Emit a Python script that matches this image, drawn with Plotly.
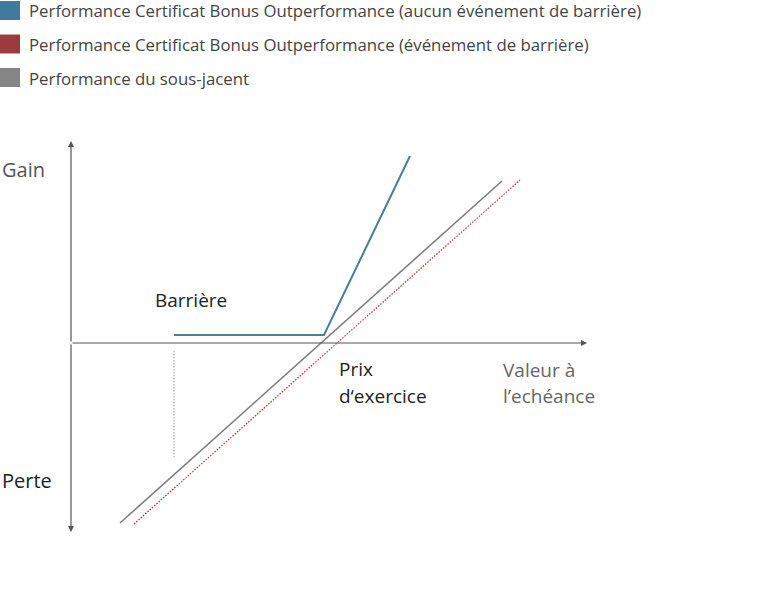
import plotly.graph_objects as go

# Data in a conceptual coordinate system: origin = strike on the x axis
underlying_x = [49, 431]
underlying_y = [-180, 162]
bonus_no_barrier_x = [103, 253, 339]
bonus_no_barrier_y = [8, 8, 187]
bonus_barrier_x = [63, 449]
bonus_barrier_y = [-181, 163]
barrier_level_x = [103, 103]
barrier_level_y = [-8, -114]

legend_labels = [
    "Performance Certificat Bonus Outperformance (aucun événement de barrière)",
    "Performance Certificat Bonus Outperformance (événement de barrière)",
    "Performance du sous-jacent",
]
legend_colors = ["#3f7b9c", "#9c3b3b", "#858585"]

FONT = "Open Sans"

fig = go.Figure()

fig.add_trace(go.Scatter(x=barrier_level_x, y=barrier_level_y, mode="lines",
                         line=dict(color="#b0b0b0", width=1.2, dash="1.5px,1.5px"), showlegend=False))
fig.add_trace(go.Scatter(x=bonus_barrier_x, y=bonus_barrier_y, mode="lines",
                         line=dict(color="#b02a2a", width=1.2, dash="1.5px,1.5px"), showlegend=False))
fig.add_trace(go.Scatter(x=underlying_x, y=underlying_y, mode="lines",
                         line=dict(color="#7f7f7f", width=1.6), showlegend=False))
fig.add_trace(go.Scatter(x=bonus_no_barrier_x, y=bonus_no_barrier_y, mode="lines",
                         line=dict(color="#4a7f9c", width=2), showlegend=False))

# Axes with arrows
arrow_common = dict(showarrow=True, arrowhead=2, arrowsize=1, arrowwidth=1.2,
                    arrowcolor="#555", xref="x", yref="y", axref="x", ayref="y", text="")
fig.add_annotation(x=0, y=202, ax=0, ay=0, **arrow_common)
fig.add_annotation(x=0, y=-189, ax=0, ay=0, **arrow_common)
fig.add_annotation(x=516, y=0, ax=0, ay=0, **arrow_common)

# Labels
def label(x, y, text, color, size=19):
    fig.add_annotation(x=x, y=y, xref="x", yref="y", text=text, showarrow=False,
                       xanchor="left", yanchor="middle", align="left",
                       font=dict(family=FONT, size=size, color=color))

label(-71, 174, "Gain", "#555555", 20)
label(-71, -137, "Perte", "#222222", 20)
label(82, 43, "Barrière", "#222222")
label(266, -26, "Prix", "#222222")
label(266, -53, "d‘exercice", "#222222")
label(430, -27, "Valeur à", "#666666")
label(430, -53, "l’echéance", "#666666")

# Custom legend
for i, (lab, col) in enumerate(zip(legend_labels, legend_colors)):
    ytop = 1 + i * 33.5
    fig.add_shape(type="rect", xref="paper", yref="paper",
                  x0=0 / 769, x1=20 / 769, y0=1 - ytop / 601, y1=1 - (ytop + 19) / 601,
                  fillcolor=col, line=dict(width=0))
    fig.add_annotation(xref="paper", yref="paper", x=27 / 769, y=1 - (ytop + 10) / 601,
                       text=lab, showarrow=False, xanchor="left", yanchor="middle",
                       font=dict(family=FONT, size=16.8, color="#444444"))

fig.update_layout(
    width=769, height=601, autosize=False,
    margin=dict(l=0, r=0, t=0, b=0),
    paper_bgcolor="white", plot_bgcolor="white",
    xaxis=dict(range=[-71, 698], visible=False, fixedrange=True),
    yaxis=dict(range=[-258, 343], visible=False, fixedrange=True),
)

fig.write_html("out.html", config={"displayModeBar": False},
               post_script="document.body.style.margin='0';")
